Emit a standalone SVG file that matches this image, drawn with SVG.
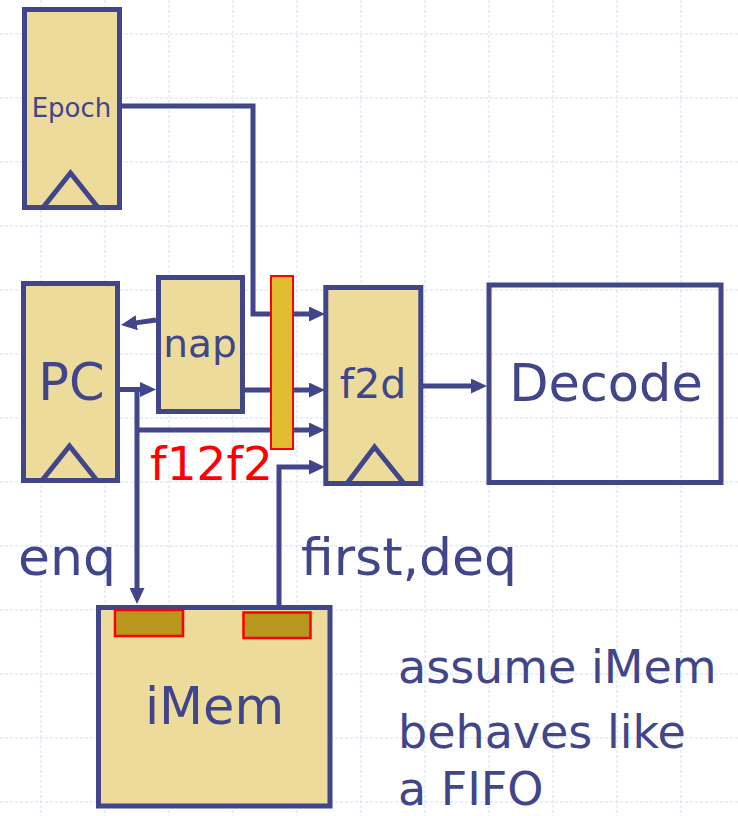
<svg xmlns="http://www.w3.org/2000/svg" width="738" height="816" viewBox="0 0 738 816">
<style>
.grid line{stroke:#d3ddfb;stroke-width:1;stroke-dasharray:3 2}
.box{fill:#eddb9b;stroke:#414589;stroke-width:5}
.open{fill:none;stroke:#414589;stroke-width:5}
.clk{fill:none;stroke:#414589;stroke-width:5;stroke-linejoin:miter}
.conn path{fill:none;stroke:#414589;stroke-width:5;stroke-linejoin:miter}
.lbl{font-family:"DejaVu Sans",Verdana,sans-serif;fill:#414589;text-anchor:middle}
.red{font-family:"DejaVu Sans",Verdana,sans-serif;fill:#ff0000;text-anchor:middle}
.bar{fill:#dfbc30;stroke:#ff0000;stroke-width:2}
.slot{fill:#b8971f;stroke:#ff0000;stroke-width:2.5}
</style>
<defs>
<marker id="ah" markerUnits="userSpaceOnUse" markerWidth="16" markerHeight="15" refX="1" refY="7.5" orient="auto">
<path d="M0,0 L16,7.5 L0,15 z" fill="#414589"/>
</marker>
</defs>
<rect width="738" height="816" fill="#ffffff"/>
<g class="grid">
<line x1="41" y1="0" x2="41" y2="816"/><line x1="105" y1="0" x2="105" y2="816"/><line x1="169" y1="0" x2="169" y2="816"/><line x1="233" y1="0" x2="233" y2="816"/><line x1="297" y1="0" x2="297" y2="816"/><line x1="361" y1="0" x2="361" y2="816"/><line x1="425" y1="0" x2="425" y2="816"/><line x1="489" y1="0" x2="489" y2="816"/><line x1="553" y1="0" x2="553" y2="816"/><line x1="617" y1="0" x2="617" y2="816"/><line x1="681" y1="0" x2="681" y2="816"/>
<line x1="0" y1="34" x2="738" y2="34"/><line x1="0" y1="98" x2="738" y2="98"/><line x1="0" y1="162" x2="738" y2="162"/><line x1="0" y1="226" x2="738" y2="226"/><line x1="0" y1="290" x2="738" y2="290"/><line x1="0" y1="354" x2="738" y2="354"/><line x1="0" y1="418" x2="738" y2="418"/><line x1="0" y1="482" x2="738" y2="482"/><line x1="0" y1="546" x2="738" y2="546"/><line x1="0" y1="610" x2="738" y2="610"/><line x1="0" y1="674" x2="738" y2="674"/><line x1="0" y1="738" x2="738" y2="738"/><line x1="0" y1="802" x2="738" y2="802"/>
</g>
<g class="conn" id="connectors">
<path d="M122,106 H253 V314 H310" marker-end="url(#ah)"/>
<path d="M156,320 L135.8,322.9" marker-end="url(#ah)"/>
<path d="M120,389.5 H141" marker-end="url(#ah)"/>
<path d="M137,387 V589" marker-end="url(#ah)"/>
<path d="M137,430 H310" marker-end="url(#ah)"/>
<path d="M245,390 H310" marker-end="url(#ah)"/>
<path d="M279,608 V467 H310" marker-end="url(#ah)"/>
<path d="M423,386 H472" marker-end="url(#ah)"/>
</g>
<g id="epoch">
<rect class="box" x="24.5" y="9.5" width="95" height="198"/>
<polyline class="clk" points="43,207.5 70.5,173 98,207.5"/>
<text class="lbl" x="71.5" y="117" font-size="26">Epoch</text>
</g>
<g id="pc">
<rect class="box" x="23.5" y="283.5" width="94" height="197"/>
<polyline class="clk" points="42,480.5 69.5,446 97,480.5"/>
<text class="lbl" x="71.5" y="400" font-size="51">PC</text>
</g>
<g id="nap">
<rect class="box" x="158.5" y="277.5" width="84" height="134"/>
<text class="lbl" x="200" y="357" font-size="39">nap</text>
</g>
<g id="f12f2">
<rect class="bar" x="271" y="276" width="22" height="173"/>
<text class="red" x="211.5" y="480" font-size="47">f12f2</text>
</g>
<g id="f2d">
<rect class="box" x="325.8" y="287.5" width="95" height="196"/>
<polyline class="clk" points="347,483.5 374.5,447 404,483.5"/>
<text class="lbl" x="373" y="398" font-size="41">f2d</text>
</g>
<g id="decode">
<rect class="open" x="489" y="285" width="232" height="197.5"/>
<text class="lbl" x="606" y="401" font-size="51">Decode</text>
</g>
<g id="imem">
<rect class="box" x="98.5" y="607.5" width="231.5" height="198.5"/>
<rect class="slot" x="115" y="610" width="68" height="26"/>
<rect class="slot" x="243.5" y="612.5" width="67" height="25.5"/>
<text class="lbl" x="214.5" y="724" font-size="51">iMem</text>
</g>
<g id="labels">
<text class="lbl" x="67" y="575" font-size="52">enq</text>
<text class="lbl" x="409" y="575" font-size="52">first,deq</text>
</g>
<g id="note">
<text class="lbl" style="text-anchor:start" x="398" y="683" font-size="46">assume iMem</text>
<text class="lbl" style="text-anchor:start" x="398" y="748" font-size="46">behaves like</text>
<text class="lbl" style="text-anchor:start" x="398" y="805" font-size="46">a FIFO</text>
</g>
</svg>
